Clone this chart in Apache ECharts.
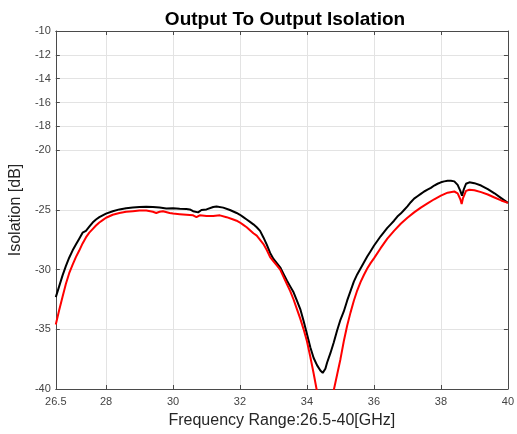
<!DOCTYPE html>
<html>
<head>
<meta charset="utf-8">
<script src="https://cdn.jsdelivr.net/npm/echarts@6/dist/echarts.min.js"></script>
<style>html,body{margin:0;padding:0;background:#fff}#c{width:517px;height:434px}</style>
</head>
<body>
<div id="c"></div>
<script>
var xTicks = [26.5, 28, 30, 32, 34, 36, 38, 40];
var yTicks = [-10, -12, -14, -16, -18, -20, -25, -30, -35, -40];

var freqBlack = [26.5,26.6,26.7,26.8,26.9,27.0,27.1,27.2,27.3,27.4,27.5,27.6,27.7,27.8,27.9,28.0,28.2,28.4,28.6,28.8,29.0,29.2,29.4,29.6,29.8,30.0,30.2,30.4,30.5,30.6,30.65,30.75,30.85,31.0,31.2,31.3,31.5,31.7,31.9,32.0,32.1,32.2,32.3,32.4,32.5,32.6,32.7,32.8,32.9,33.0,33.1,33.2,33.3,33.4,33.5,33.6,33.7,33.8,33.9,34.0,34.1,34.2,34.3,34.4,34.47,34.55,34.6,34.7,34.8,34.9,35.0,35.1,35.2,35.3,35.4,35.5,35.6,35.7,35.8,35.9,36.0,36.1,36.2,36.3,36.4,36.5,36.6,36.7,36.8,36.9,37.0,37.1,37.2,37.3,37.4,37.5,37.6,37.7,37.8,37.9,38.0,38.1,38.2,38.3,38.4,38.5,38.58,38.63,38.68,38.75,38.85,39.0,39.2,39.4,39.6,39.8,40.0];
var valBlack = [-32.3,-31.4,-30.5,-29.7,-29.0,-28.4,-27.9,-27.4,-26.9,-26.75,-26.4,-26.05,-25.8,-25.6,-25.45,-25.3,-25.1,-24.95,-24.85,-24.8,-24.75,-24.72,-24.75,-24.8,-24.88,-24.85,-24.9,-24.92,-24.95,-25.1,-24.95,-25.2,-25.0,-24.95,-24.75,-24.7,-24.8,-25.0,-25.25,-25.4,-25.6,-25.8,-26.0,-26.2,-26.45,-26.75,-27.3,-27.9,-28.6,-29.1,-29.45,-29.8,-30.35,-30.9,-31.4,-31.9,-32.6,-33.3,-34.3,-35.4,-36.5,-37.4,-38.0,-38.45,-38.65,-38.3,-37.8,-37.0,-36.1,-35.1,-34.2,-33.5,-32.6,-31.8,-31.0,-30.4,-29.9,-29.4,-28.9,-28.45,-28.0,-27.6,-27.2,-26.85,-26.5,-26.2,-25.9,-25.55,-25.3,-25.0,-24.7,-24.35,-24.05,-23.85,-23.65,-23.45,-23.3,-23.15,-22.95,-22.8,-22.68,-22.6,-22.55,-22.55,-22.6,-22.9,-23.4,-23.8,-23.3,-22.8,-22.68,-22.75,-22.95,-23.25,-23.6,-24.0,-24.4];

var freqRed = [26.5,26.6,26.7,26.8,26.9,27.0,27.1,27.2,27.3,27.4,27.5,27.6,27.7,27.8,27.9,28.0,28.2,28.4,28.6,28.8,29.0,29.2,29.4,29.5,29.6,29.7,29.9,30.0,30.2,30.4,30.6,30.7,30.8,31.0,31.2,31.4,31.6,31.8,31.9,32.0,32.1,32.2,32.3,32.4,32.5,32.6,32.7,32.8,32.9,33.0,33.1,33.2,33.3,33.4,33.5,33.6,33.7,33.8,33.9,34.0,34.1,34.2,34.3,34.4,34.55,34.7,34.8,34.9,35.0,35.1,35.2,35.3,35.4,35.5,35.6,35.7,35.8,35.9,36.0,36.2,36.4,36.6,36.8,37.0,37.2,37.4,37.6,37.8,38.0,38.2,38.4,38.5,38.58,38.62,38.66,38.75,38.85,39.0,39.2,39.4,39.6,39.8,40.0];
var valRed = [-34.6,-33.4,-32.3,-31.2,-30.3,-29.6,-28.95,-28.4,-27.8,-27.3,-26.9,-26.6,-26.3,-26.05,-25.85,-25.65,-25.4,-25.25,-25.15,-25.1,-25.05,-25.05,-25.15,-25.25,-25.15,-25.1,-25.25,-25.3,-25.35,-25.4,-25.45,-25.6,-25.45,-25.5,-25.5,-25.45,-25.6,-25.8,-25.9,-26.05,-26.25,-26.45,-26.7,-26.95,-27.15,-27.5,-27.85,-28.35,-28.95,-29.3,-29.65,-30.0,-30.6,-31.2,-31.8,-32.5,-33.3,-34.1,-35.0,-36.0,-37.3,-38.7,-40.2,-42.0,-43.0,-41.5,-40.1,-38.8,-37.5,-36.0,-34.7,-33.6,-32.6,-31.75,-31.05,-30.45,-29.9,-29.45,-29.05,-28.2,-27.4,-26.75,-26.15,-25.65,-25.2,-24.8,-24.45,-24.1,-23.8,-23.55,-23.45,-23.6,-24.1,-24.5,-24.0,-23.4,-23.3,-23.35,-23.5,-23.7,-23.95,-24.2,-24.4];

function pairs(xs, ys) { return xs.map(function (x, i) { return [x, ys[i]]; }); }

var FONT = 'Liberation Sans, Arial, sans-serif';
var axisLineStyle = { color: '#4a4a4a', width: 1 };
var chart = echarts.init(document.getElementById('c'), null, { renderer: 'canvas' });
chart.setOption({
  animation: false,
  backgroundColor: '#fff',
  title: {
    text: 'Output To Output Isolation',
    left: 280, top: 5, textAlign: 'center',
    textStyle: { fontFamily: FONT, fontSize: 19, fontWeight: 'bold', color: '#000' }
  },
  grid: { left: 52, right: 6, top: 31, bottom: 43, containLabel: false },
  xAxis: [{
    type: 'value', min: 26.5, max: 40, position: 'bottom',
    name: 'Frequency Range:26.5-40[GHz]', nameLocation: 'middle', nameGap: 24,
    nameTextStyle: { fontFamily: FONT, fontSize: 16, color: '#262626' },
    axisLine: { show: true, onZero: false, lineStyle: axisLineStyle },
    axisTick: { show: true, inside: true, length: 4, customValues: xTicks, lineStyle: axisLineStyle },
    axisLabel: { customValues: xTicks, fontFamily: FONT, fontSize: 11, color: '#444', margin: 7,
      formatter: function (v) { return String(v); } },
    splitLine: { show: true, lineStyle: { color: '#e3e3e3', width: 1 } }
  }, {
    type: 'value', min: 26.5, max: 40, position: 'top',
    axisLine: { show: true, onZero: false, lineStyle: axisLineStyle },
    axisTick: { show: true, inside: true, length: 4, customValues: xTicks, lineStyle: axisLineStyle },
    axisLabel: { show: false },
    splitLine: { show: false }
  }],
  yAxis: [{
    type: 'value', min: -40, max: -10, position: 'left',
    name: 'Isolation [dB]', nameLocation: 'middle', nameGap: 25, nameRotate: 90,
    nameTextStyle: { fontFamily: FONT, fontSize: 16, color: '#262626' },
    axisLine: { show: true, onZero: false, lineStyle: axisLineStyle },
    axisTick: { show: true, inside: true, length: 4, customValues: yTicks, lineStyle: axisLineStyle },
    axisLabel: { customValues: yTicks, fontFamily: FONT, fontSize: 11, color: '#444', margin: 5 },
    splitLine: { show: true, lineStyle: { color: '#e3e3e3', width: 1 } }
  }, {
    type: 'value', min: -40, max: -10, position: 'right',
    axisLine: { show: true, onZero: false, lineStyle: axisLineStyle },
    axisTick: { show: true, inside: true, length: 4, customValues: yTicks, lineStyle: axisLineStyle },
    axisLabel: { show: false },
    splitLine: { show: false }
  }],
  series: [{
    type: 'line', name: 'A', xAxisIndex: 0, yAxisIndex: 0,
    data: pairs(freqBlack, valBlack), showSymbol: false, symbol: 'none', clip: true,
    lineStyle: { color: '#000', width: 2 }, z: 3
  }, {
    type: 'line', name: 'B', xAxisIndex: 0, yAxisIndex: 0,
    data: pairs(freqRed, valRed), showSymbol: false, symbol: 'none', clip: true,
    lineStyle: { color: '#ff0000', width: 2 }, z: 4
  }]
});
</script>
</body>
</html>
